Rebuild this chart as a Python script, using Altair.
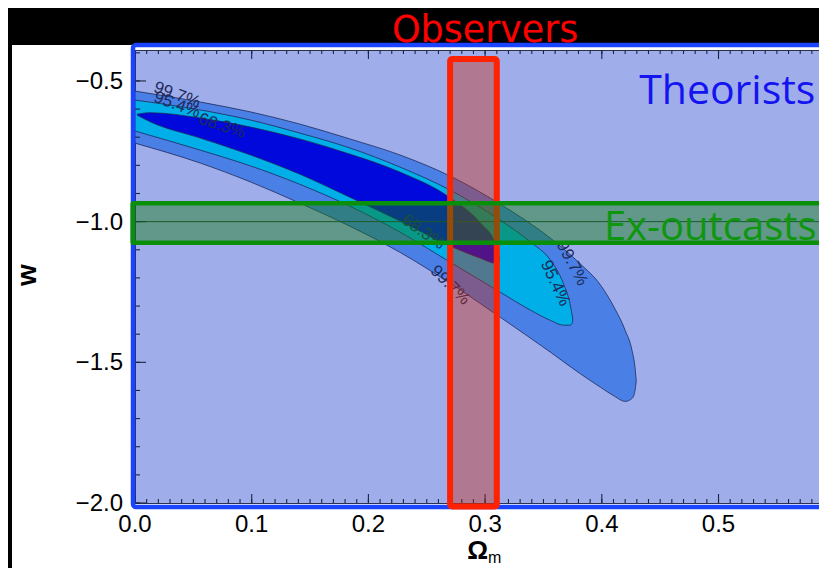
import altair as alt
import pandas as pd

# ---- contour boundaries (Omega_m, upper w, lower w) ----
om_997 = [0.0, 0.056, 0.099, 0.141, 0.184, 0.227, 0.270, 0.313, 0.356, 0.381, 0.399, 0.411, 0.420, 0.426, 0.4285, 0.4295]
hi_997 = [-0.536, -0.575, -0.610, -0.653, -0.706, -0.763, -0.838, -0.938, -1.059, -1.148, -1.226, -1.308, -1.386, -1.460, -1.520, -1.565]
lo_997 = [-0.721, -0.792, -0.859, -0.934, -1.016, -1.109, -1.219, -1.340, -1.464, -1.539, -1.589, -1.621, -1.639, -1.628, -1.600, -1.567]

om_954 = [0.0, 0.056, 0.099, 0.141, 0.184, 0.227, 0.270, 0.313, 0.339, 0.356, 0.367, 0.373, 0.375]
hi_954 = [-0.568, -0.603, -0.639, -0.685, -0.738, -0.806, -0.888, -0.995, -1.073, -1.137, -1.219, -1.297, -1.343]
lo_954 = [-0.678, -0.746, -0.802, -0.867, -0.945, -1.037, -1.144, -1.251, -1.315, -1.351, -1.368, -1.368, -1.358]

om_683 = [0.002, 0.013, 0.056, 0.099, 0.141, 0.184, 0.227, 0.270, 0.296, 0.309, 0.312]
hi_683 = [-0.618, -0.613, -0.632, -0.664, -0.706, -0.760, -0.824, -0.915, -1.005, -1.080, -1.126]
lo_683 = [-0.622, -0.645, -0.703, -0.763, -0.831, -0.913, -0.998, -1.087, -1.130, -1.148, -1.141]

# contour labels
lab_text = ["99.7%", "95.4%", "68.3%", "68.3%", "99.7%", "99.7%", "95.4%"]
lab_om = [0.036, 0.036, 0.0745, 0.247, 0.270, 0.3745, 0.360]
lab_w = [-0.550, -0.585, -0.660, -1.037, -1.226, -1.148, -1.219]
lab_ang = [20, 20, 18, 35, 45, 62, 65]

# highlighted bands
obs_om = [0.27, 0.31]
obs_w = [-0.422, -2.012]
out_om = [-0.002, 0.66]
out_w = [-0.935, -1.075]

# axis ticks and tick labels
x_major = [0.0, 0.1, 0.2, 0.3, 0.4, 0.5]
x_labels = ["0.0", "0.1", "0.2", "0.3", "0.4", "0.5"]
x_minor = [round(i * 0.01, 2) for i in range(0, 59)]
y_major = [-0.5, -1.0, -1.5, -2.0]
y_labels = ["\u22120.5", "\u22121.0", "\u22121.5", "\u22122.0"]
y_minor = [round(-0.4 - i * 0.1, 1) for i in range(0, 17)]

W, H = 684, 453
xs = alt.Scale(domain=[0.0, 0.5861], nice=False, zero=False)
ys = alt.Scale(domain=[-2.0, -0.39], nice=False, zero=False)
LINE = "#1e2a5a"
TICK = "#1c2440"
FONT = "Liberation Sans"

one = pd.DataFrame({"k": [0]})


def area(om, hi, lo, color):
    df = pd.DataFrame({"om": om, "hi": hi, "lo": lo})
    return alt.Chart(df).mark_area(
        interpolate="monotone", fill=color, fillOpacity=1, stroke=LINE, strokeWidth=0.8
    ).encode(
        x=alt.X("om:Q", scale=xs, axis=None),
        y=alt.Y("hi:Q", scale=ys, axis=None),
        y2="lo:Q",
    )


# tick labels drawn as text
xlab = alt.Chart(pd.DataFrame({"v": x_major, "t": x_labels})).mark_text(
    font=FONT, fontSize=24, color="black", align="center", baseline="alphabetic", clip=False
).encode(x=alt.X("v:Q", scale=xs, axis=None), y=alt.value(H + 29), text="t:N")

ylab = alt.Chart(pd.DataFrame({"v": y_major, "t": y_labels})).mark_text(
    font=FONT, fontSize=24, color="black", align="right", baseline="middle", dy=1, clip=False
).encode(y=alt.Y("v:Q", scale=ys, axis=None), x=alt.value(-12), text="t:N")

# black frame of the slide + blue border
black_top = alt.Chart(one).mark_rect(color="black").encode(
    x=alt.value(-130), x2=alt.value(W + 10), y=alt.value(-45), y2=alt.value(-5))
black_left = alt.Chart(one).mark_rect(color="black").encode(
    x=alt.value(-130), x2=alt.value(-123), y=alt.value(-45), y2=alt.value(H + 70))

blue_border = alt.Chart(one).mark_rect(
    fill="#1a44ff", fillOpacity=0, stroke="#1a44ff", strokeWidth=4.5, cornerRadius=3
).encode(x=alt.value(-2), x2=alt.value(W + 30), y=alt.value(-5), y2=alt.value(H + 4))


def xticks(vals, length):
    df = pd.DataFrame({"v": vals})
    bot = alt.Chart(df).mark_rule(color=TICK, strokeWidth=1.1).encode(
        x=alt.X("v:Q", scale=xs, axis=None), y=alt.value(H), y2=alt.value(H - length))
    top = alt.Chart(df).mark_rule(color=TICK, strokeWidth=1.1).encode(
        x=alt.X("v:Q", scale=xs, axis=None), y=alt.value(0), y2=alt.value(length))
    return bot + top


def yticks(vals, length):
    df = pd.DataFrame({"v": vals})
    return alt.Chart(df).mark_rule(color=TICK, strokeWidth=1.1).encode(
        y=alt.Y("v:Q", scale=ys, axis=None), x=alt.value(0), x2=alt.value(length))


labels = alt.Chart(pd.DataFrame({"om": lab_om, "w": lab_w, "t": lab_text, "a": lab_ang})).mark_text(
    font=FONT, fontSize=17, color=LINE, align="center", baseline="middle"
).encode(
    x=alt.X("om:Q", scale=xs, axis=None),
    y=alt.Y("w:Q", scale=ys, axis=None),
    text="t:N",
    angle=alt.Angle("a:Q", scale=None),
)

wline = alt.Chart(pd.DataFrame({"w": [-1.0]})).mark_rule(color="#1f3d3d", strokeWidth=1).encode(
    y=alt.Y("w:Q", scale=ys, axis=None), x=alt.value(0), x2=alt.value(W))

obs_box = alt.Chart(pd.DataFrame({"x": [obs_om[0]], "x2": [obs_om[1]], "y": [obs_w[0]], "y2": [obs_w[1]]})).mark_rect(
    fill="#c8280a", fillOpacity=0.4, stroke="#ff2200", strokeWidth=6, cornerRadius=2, clip=False
).encode(
    x=alt.X("x:Q", scale=xs, axis=None), x2="x2:Q",
    y=alt.Y("y:Q", scale=ys, axis=None), y2="y2:Q",
)

out_box = alt.Chart(pd.DataFrame({"x": [out_om[0]], "x2": [out_om[1]], "y": [out_w[0]], "y2": [out_w[1]]})).mark_rect(
    fill="#157f15", fillOpacity=0.45, stroke="#0a8f0a", strokeWidth=4.5, cornerRadius=1, clip=False
).encode(
    x=alt.X("x:Q", scale=xs, axis=None), x2="x2:Q",
    y=alt.Y("y:Q", scale=ys, axis=None), y2="y2:Q",
)

group_names = ["Observers", "Theorists", "Ex-outcasts"]
group_om = [0.300, 0.583, 0.584]
group_w = [-0.363, -0.582, -1.066]
group_col = ["#ff0000", "#1414f0", "#0e960e"]
group_font = ["DejaVu Sans", "Open Sans", "Open Sans"]
group_size = [36.5, 41, 40]
group_align = ["center", "right", "right"]


def group_text(i):
    df = pd.DataFrame({"om": [group_om[i]], "w": [group_w[i]], "t": [group_names[i]]})
    return alt.Chart(df).mark_text(
        font=group_font[i], fontSize=group_size[i], color=group_col[i], align=group_align[i],
        baseline="alphabetic", clip=False
    ).encode(
        x=alt.X("om:Q", scale=xs, axis=None),
        y=alt.Y("w:Q", scale=ys, axis=None),
        text="t:N",
    )


title_w = alt.Chart(pd.DataFrame({"t": ["w"]})).mark_text(
    font=FONT, fontSize=28, fontWeight="bold", color="black", angle=270, align="center", baseline="middle"
).encode(text="t:N", x=alt.value(-107), y=alt.value(225))

title_om = alt.Chart(pd.DataFrame({"t": ["\u03a9"]})).mark_text(
    font=FONT, fontSize=26, fontWeight="bold", color="black", align="right", baseline="alphabetic"
).encode(text="t:N", x=alt.value(353), y=alt.value(509))
title_m = alt.Chart(pd.DataFrame({"t": ["m"]})).mark_text(
    font=FONT, fontSize=16, color="black", align="left", baseline="alphabetic"
).encode(text="t:N", x=alt.value(353), y=alt.value(513))

chart = alt.layer(
    black_top, black_left,
    area(om_997, hi_997, lo_997, "#4a7fe6"),
    area(om_954, hi_954, lo_954, "#00aee8"),
    area(om_683, hi_683, lo_683, "#0008dc"),
    labels,
    wline,
    xticks(x_minor, 4), xticks(x_major, 9),
    yticks(y_minor, 5), yticks(y_major, 11),
    blue_border,
    obs_box,
    out_box,
    xlab, ylab,
    group_text(0), group_text(1), group_text(2),
    title_w, title_om, title_m,
).properties(
    width=W, height=H,
    padding={"left": 127, "top": 42, "right": 0, "bottom": 65},
    autosize="none",
    background="white",
).configure_view(
    fill="#a0adeb", stroke="#2a3050", strokeWidth=1
)

chart.save("out.html", embed_options={"renderer": "svg", "actions": False})
